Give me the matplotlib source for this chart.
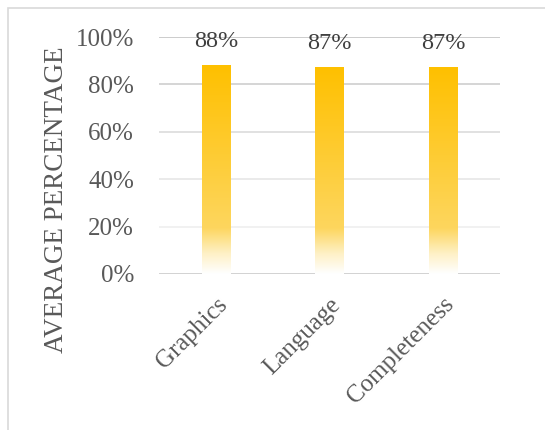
import numpy as np
import matplotlib
matplotlib.use("Agg")
import matplotlib.pyplot as plt
from matplotlib.colors import LinearSegmentedColormap
from matplotlib.patches import Rectangle
from matplotlib.ticker import PercentFormatter

categories = ["Graphics", "Language", "Completeness"]
values = [88, 87, 87]
labels = ["88%", "87%", "87%"]
yticks = [0, 20, 40, 60, 80, 100]

plt.rcParams['font.family'] = ['Liberation Serif', 'DejaVu Serif']
txt = '#595959'

fig = plt.figure(figsize=(5.45, 4.3), dpi=100)
ax = fig.add_axes([159/545, 1-274/430, (500-159)/545, (274-37)/430])

# outer frame
fig.patches.append(Rectangle((8/545, -0.1), 1.2, 1.1 - 8/430, transform=fig.transFigure,
                             fill=False, edgecolor='#d9d9d9', linewidth=1.2))

cmap = LinearSegmentedColormap.from_list(
    'g', [(0.0, '#FFFFFF'), (0.10, '#FEF0C4'), (0.22, '#FDD65E'), (1.0, '#FFC000')])
grad = np.linspace(0, 1, 256).reshape(-1, 1)
x = np.arange(len(categories))
w = 0.25
for xi, v in zip(x, values):
    ax.imshow(grad, cmap=cmap, origin='lower', aspect='auto',
              extent=(xi - w/2, xi + w/2, 0, v), zorder=3)
ax.set_xlim(-0.5, len(categories) - 0.5)
ax.set_ylim(0, 100)

for xi, v, lab in zip(x, values, labels):
    ax.annotate(lab, (xi, v), xytext=(0, 17.5), textcoords='offset points',
                ha='center', va='center', fontsize=17.5, color='#404040', zorder=4)

ax.set_yticks(yticks)
ax.yaxis.set_major_formatter(PercentFormatter(100, decimals=0))
ax.set_xticks(x)
ax.set_xticklabels(categories, rotation=45, ha='right', rotation_mode='anchor')
ax.tick_params(axis='both', length=0, labelsize=18, colors=txt)
ax.tick_params(axis='y', pad=18)
ax.tick_params(axis='x', pad=14)
ax.set_ylabel('AVERAGE PERCENTAGE', fontsize=19.5, color=txt, va='center')
ax.yaxis.set_label_coords((57-159)/341, (274-200)/237)

grid_colors = ['#cfcfcf', '#f0f0f0', '#e8e8e8', '#dedede', '#d2d2d2', '#c8c8c8']
ax.yaxis.grid(True, linewidth=1.3)
for gl, c in zip(ax.get_ygridlines(), grid_colors):
    gl.set_color(c)
ax.set_axisbelow(True)
for s in ax.spines.values():
    s.set_visible(False)

fig.savefig('out.png', dpi=100)
